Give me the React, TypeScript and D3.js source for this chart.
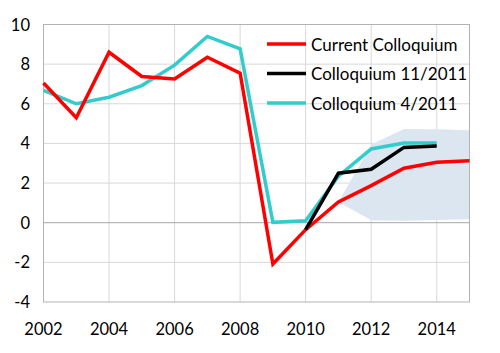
import React, { useEffect, useRef } from 'react';
import * as d3 from 'd3';

const years = [2002, 2003, 2004, 2005, 2006, 2007, 2008, 2009, 2010, 2011, 2012, 2013, 2014, 2015];
const current = [7.05, 5.3, 8.6, 7.38, 7.25, 8.35, 7.55, -2.08, -0.35, 1.05, 1.87, 2.75, 3.05, 3.12];
const april2011 = [6.68, 6.0, 6.33, 6.92, 7.95, 9.4, 8.77, 0.02, 0.1, 2.35, 3.72, 4.02, 4.02];
const nov2011Years = [2010, 2011, 2012, 2013, 2014];
const nov2011 = [-0.35, 2.5, 2.7, 3.8, 3.87];
const fanYears = [2011, 2012, 2013, 2014, 2015];
const fanUpper = [1.05, 3.94, 4.73, 4.72, 4.66];
const fanLower = [1.05, 0.12, 0.1, 0.14, 0.18];
const yTicks = [-4, -2, 0, 2, 4, 6, 8, 10];
const xTicks = [2002, 2004, 2006, 2008, 2010, 2012, 2014];
const seriesNames = ['Current Colloquium', 'Colloquium 11/2011', 'Colloquium 4/2011'];
const seriesColors = ['#ff0000', '#000000', '#33cccc'];

const App = () => {
  const svgRef = useRef<SVGSVGElement>(null);

  useEffect(() => {
    const svg = d3.select(svgRef.current);
    svg.selectAll('*').remove();

    const left = 43.5, right = 469.5, top = 24.5, bottom = 302;
    const font = 'Lato, Calibri, sans-serif';

    const x = d3.scaleLinear().domain([2002, 2015]).range([left, right]);
    const y = d3.scaleLinear().domain([-4, 10]).range([bottom, top]);

    // grid
    svg.append('g')
      .selectAll('line')
      .data(yTicks.filter(d => d !== 0 && d !== -4 && d !== 10))
      .enter().append('line')
      .attr('x1', left).attr('x2', right)
      .attr('y1', d => y(d)).attr('y2', d => y(d))
      .attr('stroke', '#d9d9d9').attr('stroke-width', 1);

    svg.append('g')
      .selectAll('line')
      .data(xTicks.filter(d => d !== 2002))
      .enter().append('line')
      .attr('x1', d => x(d)).attr('x2', d => x(d))
      .attr('y1', top).attr('y2', bottom)
      .attr('stroke', '#d9d9d9').attr('stroke-width', 1);

    // fan
    const fanPts: [number, number][] = [
      ...fanYears.map((yr, i) => [x(yr), y(fanUpper[i])] as [number, number]),
      ...fanYears.map((yr, i) => [x(yr), y(fanLower[i])] as [number, number]).reverse(),
    ];
    svg.append('polygon')
      .attr('points', fanPts.map(p => p.join(',')).join(' '))
      .attr('fill', '#dce6f0');

    // frame and zero line
    svg.append('rect')
      .attr('x', left).attr('y', top)
      .attr('width', right - left).attr('height', bottom - top)
      .attr('fill', 'none').attr('stroke', '#b3b3b3').attr('stroke-width', 1);
    svg.append('line')
      .attr('x1', left).attr('x2', right)
      .attr('y1', y(0)).attr('y2', y(0))
      .attr('stroke', '#a6a6a6').attr('stroke-width', 1);

    // lines
    const line = d3.line<[number, number]>()
      .x(d => x(d[0]))
      .y(d => y(d[1]));

    const addLine = (xs: number[], vals: number[], color: string) => {
      svg.append('path')
        .datum(vals.map((v, i) => [xs[i], v] as [number, number]))
        .attr('d', line)
        .attr('fill', 'none')
        .attr('stroke', color)
        .attr('stroke-width', 3.5)
        .attr('stroke-linejoin', 'miter');
    };
    addLine(years, april2011, seriesColors[2]);
    addLine(years, current, seriesColors[0]);
    addLine(nov2011Years, nov2011, seriesColors[1]);

    // axis labels
    svg.append('g')
      .selectAll('text')
      .data(yTicks)
      .enter().append('text')
      .attr('x', 30)
      .attr('y', d => y(d))
      .attr('text-anchor', 'end')
      .attr('dominant-baseline', 'central')
      .style('font-family', font)
      .style('font-size', '16.5px')
      .style('fill', '#000')
      .text(d => d);

    svg.append('g')
      .selectAll('text')
      .data(xTicks)
      .enter().append('text')
      .attr('x', d => x(d))
      .attr('y', 329)
      .attr('text-anchor', 'middle')
      .attr('dominant-baseline', 'central')
      .style('font-family', font)
      .style('font-size', '16.5px')
      .style('fill', '#000')
      .text(d => d);

    // legend
    const legend = svg.append('g');
    seriesNames.forEach((name, i) => {
      const ly = 44 + i * 29.5;
      legend.append('line')
        .attr('x1', 267).attr('x2', 306)
        .attr('y1', ly).attr('y2', ly)
        .attr('stroke', seriesColors[i]).attr('stroke-width', 3.5);
      legend.append('text')
        .attr('x', 311).attr('y', ly)
        .attr('dominant-baseline', 'central')
        .style('font-family', font)
        .style('font-size', '17px')
        .style('fill', '#000')
        .text(name);
    });
  }, []);

  return (
    <svg
      ref={svgRef}
      width={500}
      height={353}
      style={{ position: 'absolute', left: 0, top: 0, background: '#fff' }}
    />
  );
};

export default App;
